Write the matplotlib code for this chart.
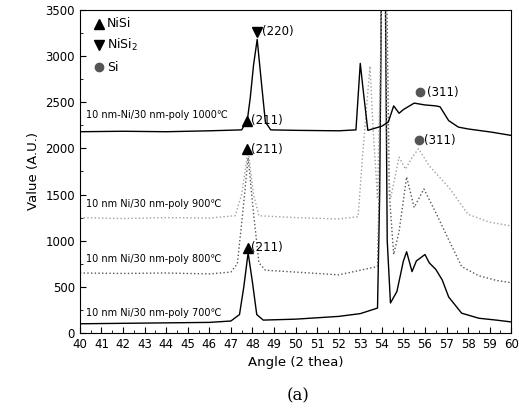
import matplotlib.pyplot as plt
from matplotlib.ticker import MultipleLocator

# 2-theta / intensity points (Si peak near 54 runs off the top)
x_700 = [40, 42, 44, 46, 47.0, 47.4, 47.6, 47.8, 48.0, 48.2, 48.5, 50, 52, 53, 53.8,
         53.9, 54.0, 54.15, 54.25, 54.4, 54.7, 55.0, 55.15, 55.4, 55.6, 56.0, 56.2,
         56.5, 56.8, 57.1, 57.7, 58.5, 59.3, 60]
y_700 = [100, 105, 110, 115, 130, 200, 500, 870, 550, 200, 140, 150, 180, 210, 270,
         1500, 4200, 4200, 1000, 325, 450, 780, 880, 665, 780, 850, 760,
         690, 575, 390, 215, 160, 140, 120]

x_800 = [40, 42, 44, 46, 47.0, 47.3, 47.55, 47.8, 48.05, 48.3, 48.6, 50, 52, 53, 53.8,
         53.9, 54.0, 54.2, 54.35, 54.55, 54.8, 55.15, 55.5, 55.95, 56.5, 57.1, 57.7,
         58.5, 59.3, 60]
y_800 = [650, 645, 650, 640, 660, 750, 1300, 1900, 1300, 760, 680, 660, 630, 680, 720,
         1800, 4200, 4200, 1500, 850, 1100, 1690, 1360, 1560, 1305, 1010, 720,
         620, 570, 545]

x_900 = [40, 42, 44, 46, 47.2, 47.5, 47.8, 48.05, 48.3, 50, 52, 52.9, 53.1, 53.45,
         53.6, 53.8, 54.05, 54.15, 54.25, 54.4, 54.8, 55.1, 55.4, 55.7, 56.2, 57.1,
         58.0, 59, 60]
y_900 = [1250, 1240, 1250, 1245, 1270, 1500, 1980, 1500, 1270, 1250, 1235, 1260, 1900, 2890,
         2200, 1450, 4200, 4200, 2000, 1450, 1905, 1775, 1900, 1995, 1810, 1580,
         1285, 1200, 1160]

x_1000 = [40, 42, 44, 46, 47.5, 47.65, 47.76, 47.9, 48.05, 48.22, 48.4, 48.6, 48.85,
          50, 52, 52.8, 53.0, 53.15, 53.35, 54.0, 54.3, 54.55, 54.8, 55.0, 55.5,
          56.0, 56.5, 56.7, 57.1, 57.55, 58, 59.1, 60]
y_1000 = [2180, 2185, 2180, 2190, 2200, 2260, 2300, 2550, 2900, 3180, 2750, 2285, 2200,
          2195, 2190, 2200, 2920, 2600, 2195, 2240, 2285, 2460, 2380, 2420, 2490,
          2470, 2460, 2450, 2300, 2230, 2210, 2175, 2140]

temps = ['700', '800', '900', '1000']
label_y = [220, 805, 1395, 2360]

fig = plt.figure(figsize=(5.19, 4.17), dpi=100)
ax = fig.add_axes([0.154, 0.2014, 0.831, 0.775])

ax.plot(x_700, y_700, color='black', lw=1.0)
ax.plot(x_800, y_800, color='#555555', lw=1.0, ls=':')
ax.plot(x_900, y_900, color='#a0a0a0', lw=1.0, ls=':')
ax.plot(x_1000, y_1000, color='black', lw=1.0)

for t, ly in zip(temps, label_y):
    sep = '-' if t == '1000' else ' '
    ax.text(40.3, ly, f'10 nm{sep}Ni/30 nm-poly {t}\u2103', fontsize=7, va='center')

# phase markers
ax.plot([47.76], [2300], marker='^', color='black', ms=7)
ax.text(47.95, 2300, '(211)', fontsize=8.5, va='center')
ax.plot([47.76], [1990], marker='^', color='black', ms=7)
ax.text(47.95, 1990, '(211)', fontsize=8.5, va='center')
ax.plot([47.8], [925], marker='^', color='black', ms=7)
ax.text(47.95, 925, '(211)', fontsize=8.5, va='center')
ax.plot([48.22], [3265], marker='v', color='black', ms=7)
ax.text(48.45, 3265, '(220)', fontsize=8.5, va='center')
ax.plot([55.78], [2610], marker='o', color='#555555', ms=6)
ax.text(56.1, 2610, '(311)', fontsize=8.5, va='center')
ax.plot([55.72], [2085], marker='o', color='#555555', ms=6)
ax.text(55.95, 2085, '(311)', fontsize=8.5, va='center')

# legend drawn by hand in the upper left
ax.plot([40.9], [3350], marker='^', color='black', ms=7)
ax.text(41.25, 3350, 'NiSi', fontsize=9, va='center')
ax.plot([40.9], [3115], marker='v', color='black', ms=7)
ax.text(41.25, 3115, 'NiSi$_2$', fontsize=9, va='center')
ax.plot([40.9], [2880], marker='o', color='#555555', ms=6)
ax.text(41.25, 2880, 'Si', fontsize=9, va='center')

ax.set_xlim(40, 60)
ax.set_ylim(0, 3500)
ax.xaxis.set_major_locator(MultipleLocator(1))
ax.xaxis.set_minor_locator(MultipleLocator(0.5))
ax.yaxis.set_major_locator(MultipleLocator(500))
ax.yaxis.set_minor_locator(MultipleLocator(250))
ax.tick_params(which='both', direction='in', labelsize=8.5)
ax.tick_params(which='major', length=4)
ax.tick_params(which='minor', length=2)
ax.set_xlabel('Angle (2 thea)', fontsize=9.5)
ax.set_ylabel('Value (A.U.)', fontsize=9.5)
fig.text(0.575, 0.04, '(a)', fontsize=12, family='serif', ha='center')

fig.savefig('out.png', dpi=100)
